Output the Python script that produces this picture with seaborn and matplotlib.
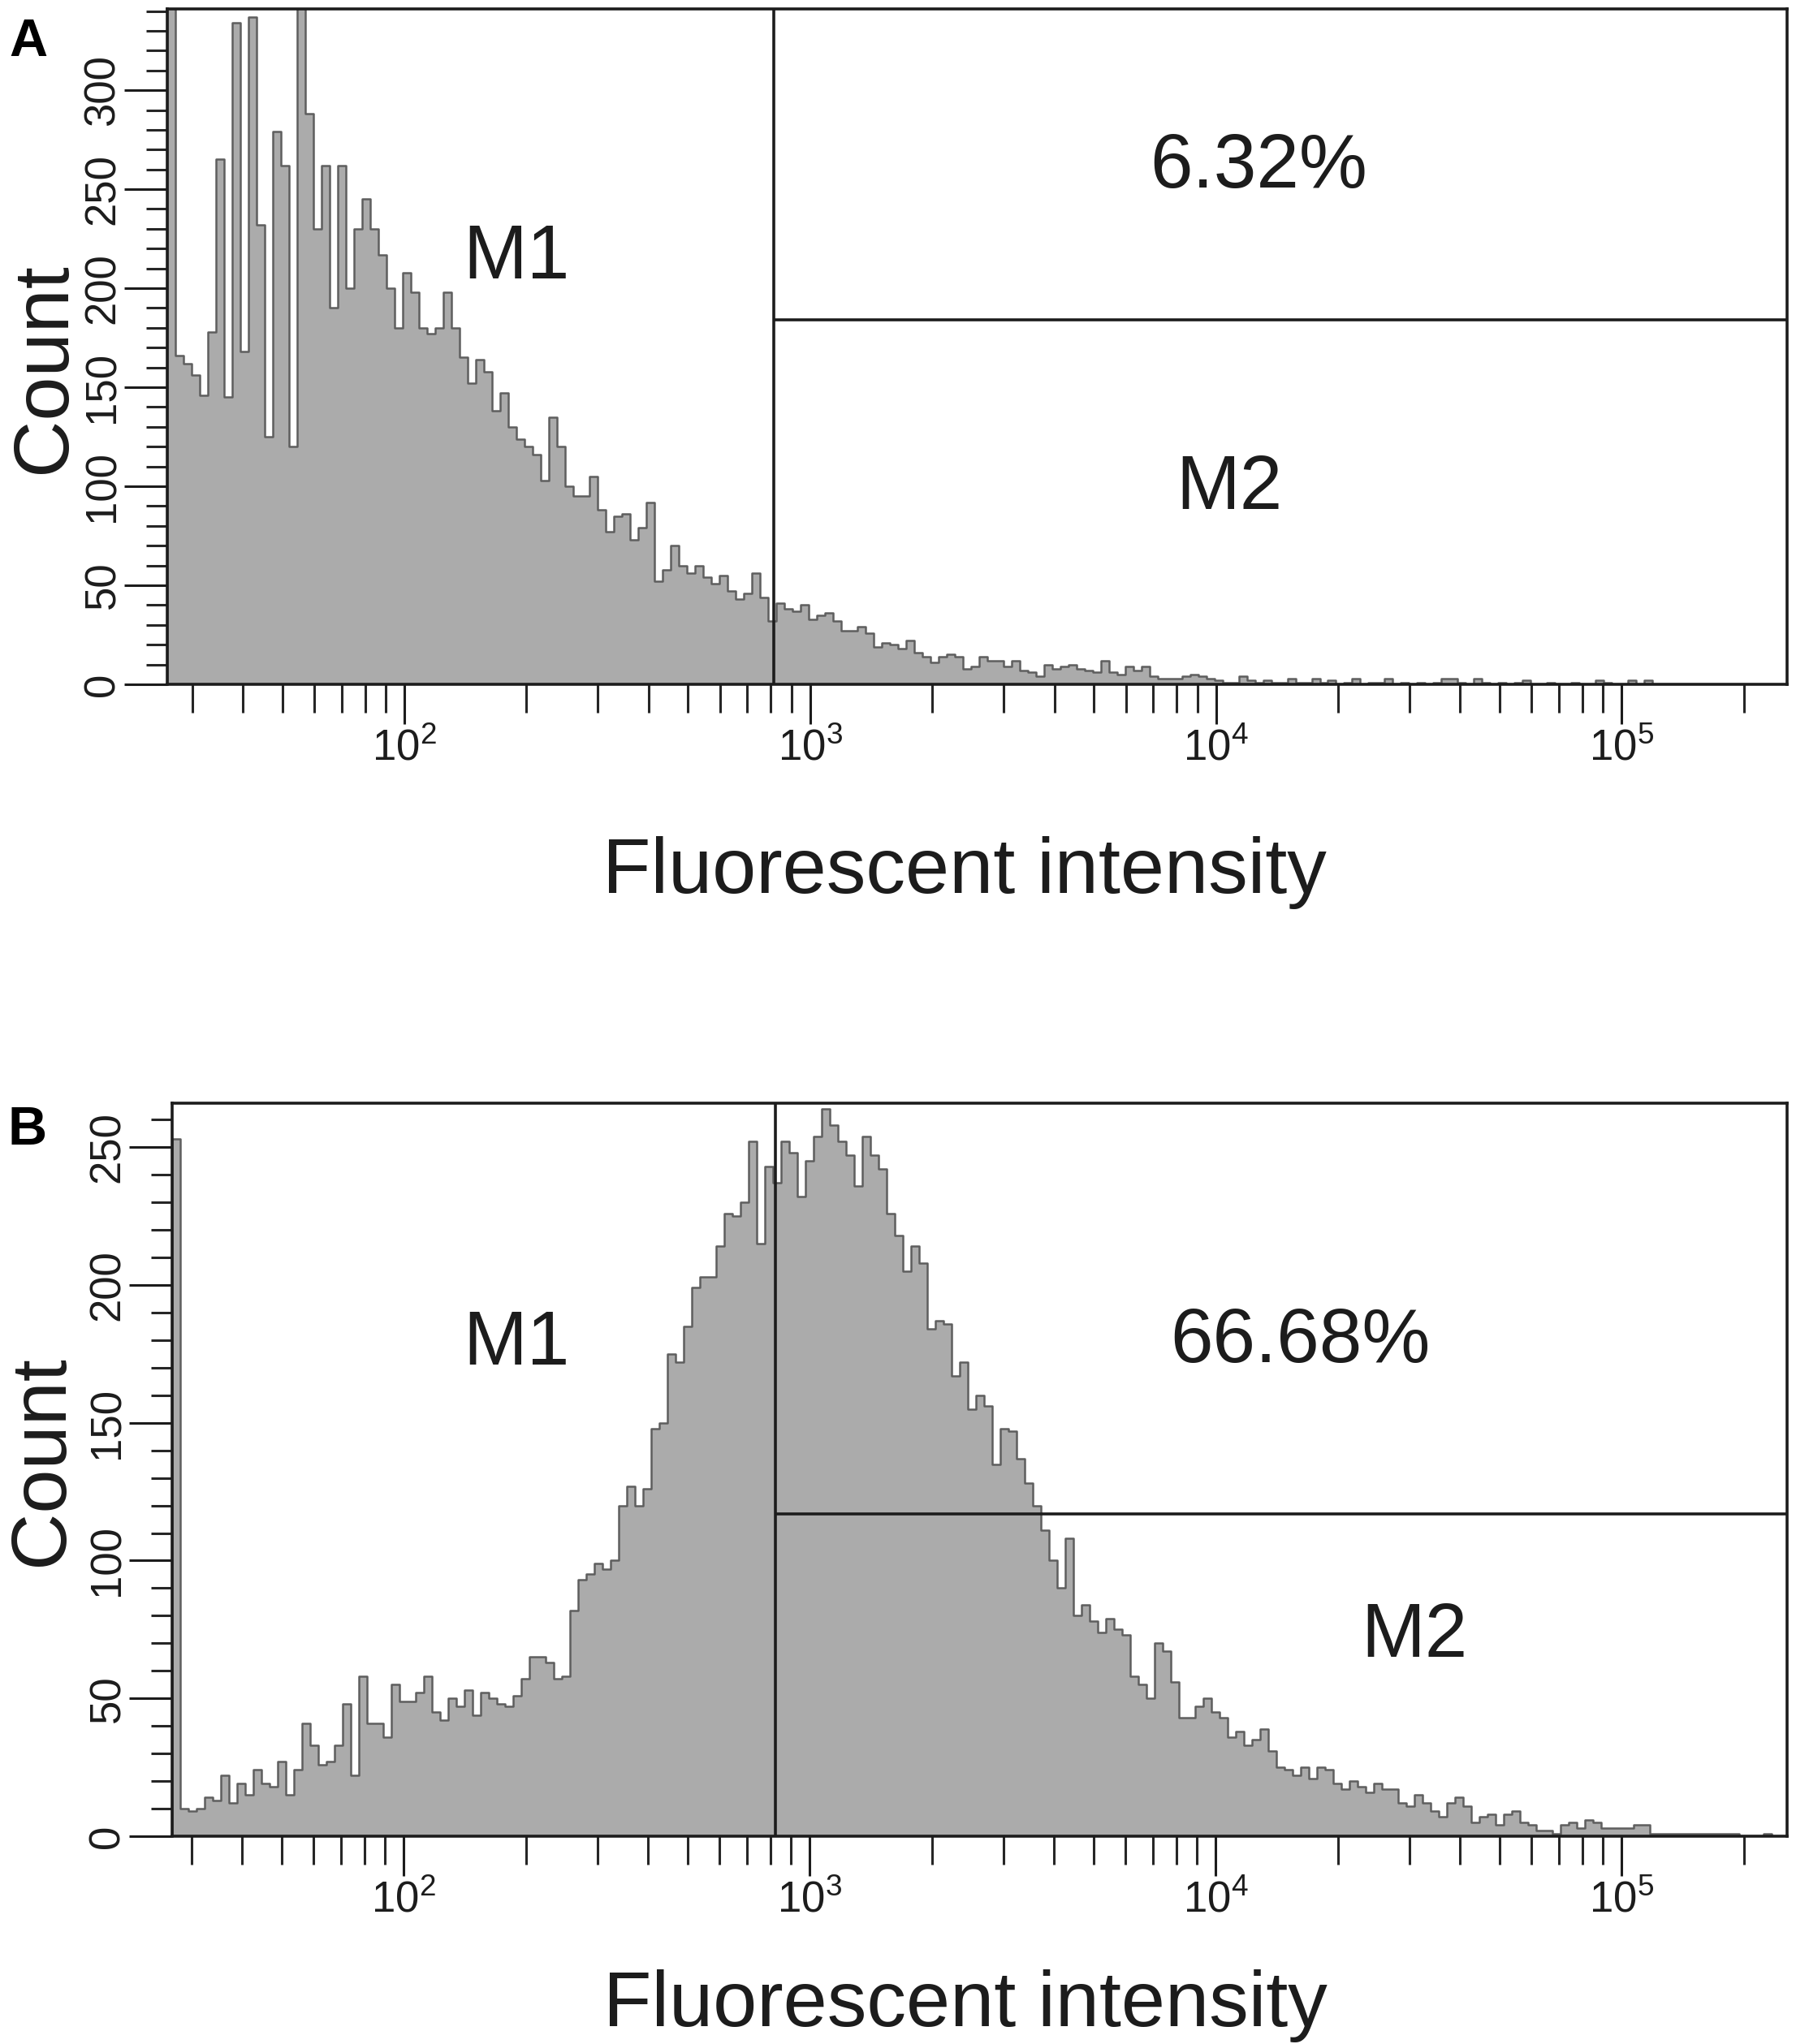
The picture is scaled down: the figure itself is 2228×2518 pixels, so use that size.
import numpy as np
import matplotlib
matplotlib.use("Agg")
import matplotlib.pyplot as plt
import seaborn as sns
from matplotlib.ticker import FixedLocator, MultipleLocator, LogLocator, NullFormatter, FixedFormatter

# channel counts, one value per 0.02-decade bin starting at the left edge of each panel
counts_a = [360, 166, 162, 156, 146, 178, 265, 145, 334, 168,
            337, 232, 125, 279, 262, 120, 360, 288, 230, 262,
            190, 262, 200, 230, 245, 230, 217, 200, 180, 208,
            198, 180, 177, 180, 198, 180, 165, 152, 164, 158,
            138, 147, 130, 124, 120, 116, 103, 135, 120, 100,
            95, 95, 105, 88, 77, 85, 86, 73, 79, 92,
            52, 58, 70, 60, 56, 60, 54, 51, 55, 47,
            43, 46, 56, 44, 32, 41, 38, 37, 40, 33,
            35, 36, 32, 27, 27, 29, 26, 19, 21, 20,
            18, 22, 16, 14, 11, 14, 15, 14, 8, 9,
            14, 12, 12, 9, 12, 7, 6, 4, 10, 8,
            9, 10, 8, 7, 6, 12, 6, 5, 9, 7,
            9, 4, 3, 3, 3, 4, 5, 4, 3, 2,
            1, 1, 4, 2, 1, 2, 1, 1, 3, 1,
            1, 3, 1, 2, 0, 1, 3, 0, 1, 1,
            3, 0, 1, 0, 1, 0, 1, 3, 3, 1,
            0, 3, 1, 0, 1, 0, 1, 2, 0, 0,
            1, 0, 0, 1, 0, 0, 2, 1, 0, 0,
            2, 0, 2]

counts_b = [253, 10, 9, 10, 14, 13, 22, 12, 19, 15,
            24, 19, 18, 27, 15, 24, 41, 33, 26, 27,
            33, 48, 22, 58, 41, 41, 36, 55, 49, 49,
            52, 58, 45, 42, 50, 47, 53, 44, 52, 50,
            48, 47, 51, 57, 65, 65, 63, 57, 58, 82,
            93, 95, 99, 97, 100, 120, 127, 120, 126, 148,
            150, 175, 172, 185, 199, 203, 203, 214, 226, 225,
            230, 252, 215, 243, 237, 252, 248, 232, 245, 254,
            264, 258, 252, 247, 236, 254, 247, 242, 226, 218,
            205, 214, 208, 184, 187, 186, 167, 172, 155, 160,
            156, 135, 148, 147, 137, 128, 120, 111, 100, 90,
            108, 80, 84, 78, 74, 79, 75, 73, 58, 55,
            50, 70, 67, 56, 43, 43, 47, 50, 45, 43,
            36, 38, 33, 35, 39, 31, 25, 24, 22, 25,
            21, 25, 24, 19, 17, 20, 18, 16, 19, 17,
            17, 12, 11, 15, 12, 9, 7, 12, 14, 11,
            5, 7, 8, 4, 8, 9, 5, 4, 2, 2,
            1, 4, 5, 3, 6, 5, 3, 3, 3, 3,
            4, 4, 1, 1, 1, 1, 1, 1, 1, 1,
            1, 1, 1, 0, 0, 0, 1]

bin_step = 0.02          # decades per bin
start_a = 1.416          # log10 of first bin edge
start_b = 1.43
xmin_a, xmin_b = 10 ** 1.416, 10 ** 1.43
x_max = 10 ** 5.408
ymax_a, ymax_b = 341, 266

# marker gates: vertical split and horizontal bar height
gate_a, gate_b = 813, 824
bar_a, bar_b = 184, 117

x_ticks = [1e2, 1e3, 1e4, 1e5]
x_tick_labels = [r"$\mathregular{10^{2}}$", r"$\mathregular{10^{3}}$",
                 r"$\mathregular{10^{4}}$", r"$\mathregular{10^{5}}$"]
y_ticks_a = [0, 50, 100, 150, 200, 250, 300]
y_ticks_b = [0, 50, 100, 150, 200, 250]

notes_a = ["M1", "6.32%", "M2"]
notes_b = ["M1", "66.68%", "M2"]
note_x_a = [10 ** 2.276, 10 ** 4.106, 10 ** 4.032]
note_y_a = [205, 251, 88.5]
note_x_b = [10 ** 2.277, 10 ** 4.208, 10 ** 4.49]
note_y_b = [171, 172, 65]

sns.set_style("ticks")
plt.rcParams["font.family"] = ["Liberation Sans", "DejaVu Sans"]
plt.rcParams["mathtext.fontset"] = "custom"
plt.rcParams["mathtext.rm"] = "Liberation Sans"

ink = "#1c1c1c"
fill_grey = "#ababab"
line_grey = "#5e5e5e"

fig = plt.figure(figsize=(22.28, 25.18), dpi=100)
ax_a = fig.add_axes([0.0925, 0.6652, 0.8955, 0.3304])
ax_b = fig.add_axes([0.0952, 0.1017, 0.8927, 0.3586])


def draw_panel(ax, counts, start, xmin, ymax, yticks, gate, bar, notes, nx, ny):
    edges = start + bin_step * np.arange(len(counts) + 1)
    centres = 10 ** (edges[:-1] + bin_step / 2)
    sns.histplot(x=centres, weights=counts, bins=list(edges), log_scale=True,
                 element="step", fill=True, color=fill_grey,
                 edgecolor=line_grey, linewidth=1.8, alpha=1, ax=ax)
    ax.set_xlim(xmin, x_max)
    ax.set_ylim(0, ymax)

    ax.axvline(gate, color=ink, lw=2.6)
    ax.hlines(bar, gate, x_max, color=ink, lw=2.6)

    for s, x, y in zip(notes, nx, ny):
        ax.text(x, y, s, fontsize=68, color=ink, ha="center", va="baseline")

    ax.xaxis.set_major_locator(FixedLocator(x_ticks))
    ax.xaxis.set_major_formatter(FixedFormatter(x_tick_labels))
    ax.xaxis.set_minor_locator(LogLocator(base=10, subs=np.arange(2, 10)))
    ax.xaxis.set_minor_formatter(NullFormatter())
    ax.yaxis.set_major_locator(FixedLocator(yticks))
    ax.yaxis.set_minor_locator(MultipleLocator(10))

    ax.tick_params(axis="x", which="major", length=35, width=2.2, pad=4,
                   labelsize=38, colors=ink)
    ax.tick_params(axis="x", which="minor", length=25, width=2.2)
    ax.tick_params(axis="y", which="major", length=38, width=2.2, pad=1,
                   labelsize=38, labelrotation=90, colors=ink)
    ax.tick_params(axis="y", which="minor", length=19, width=2.2)
    for lab in ax.get_yticklabels():
        lab.set_va("center")

    for sp in ax.spines.values():
        sp.set_visible(True)
        sp.set_linewidth(2.6)
        sp.set_color(ink)

    ax.set_xlabel("Fluorescent intensity", fontsize=70, color=ink)
    ax.set_ylabel("Count", fontsize=70, color=ink)


draw_panel(ax_a, counts_a, start_a, xmin_a, ymax_a, y_ticks_a, gate_a, bar_a,
           notes_a, note_x_a, note_y_a)
draw_panel(ax_b, counts_b, start_b, xmin_b, ymax_b, y_ticks_b, gate_b, bar_b,
           notes_b, note_x_b, note_y_b)

ax_a.xaxis.set_label_coords(0.492, -0.225)
ax_a.yaxis.set_label_coords(-0.053, 0.469)
ax_b.xaxis.set_label_coords(0.491, -0.182)
ax_b.yaxis.set_label_coords(-0.058, 0.513)

fig.text(11 / 2228, 1 - 69 / 2518, "A", fontsize=47, weight="bold", color="black", va="baseline")
fig.text(10 / 2228, 1 - 1410 / 2518, "B", fontsize=48, weight="bold", color="black", va="baseline")

fig.savefig("out.png", dpi=100)
